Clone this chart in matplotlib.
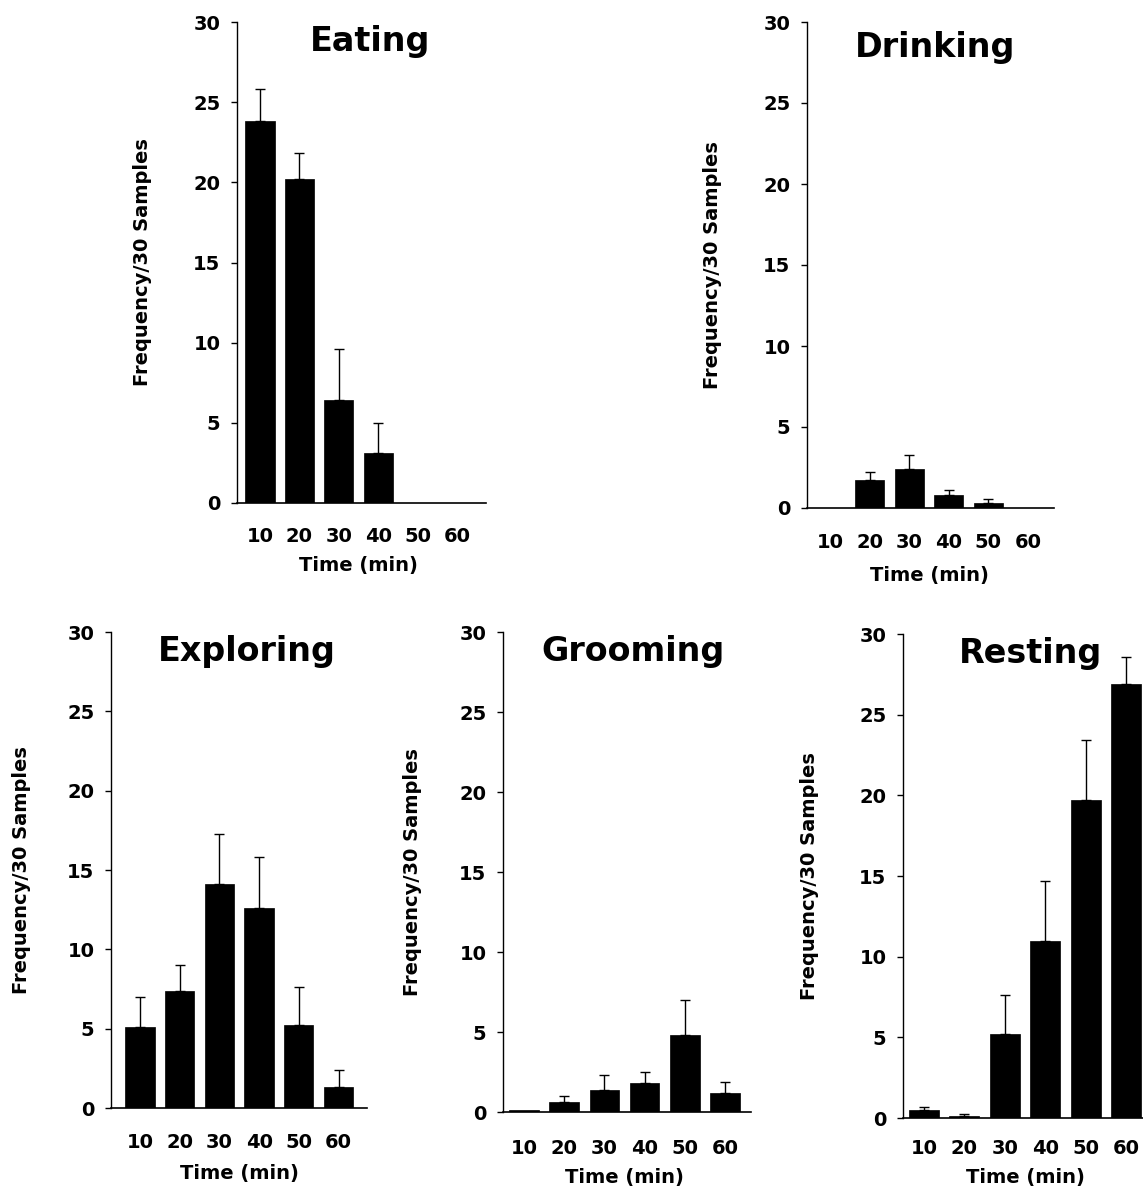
import matplotlib
matplotlib.use("Agg")
import matplotlib.pyplot as plt
import numpy as np

W, H = 1143, 1194
times = ["10", "20", "30", "40", "50", "60"]

eating = [23.8, 20.2, 6.4, 3.1, 0.0, 0.0]
eating_top = [25.8, 21.8, 9.6, 5.0, 0.0, 0.0]
drinking = [0.0, 1.7, 2.4, 0.8, 0.3, 0.0]
drinking_top = [0.0, 2.2, 3.3, 1.1, 0.55, 0.0]
exploring = [5.1, 7.4, 14.1, 12.6, 5.2, 1.3]
exploring_top = [7.0, 9.0, 17.3, 15.8, 7.6, 2.4]
grooming = [0.15, 0.6, 1.4, 1.8, 4.8, 1.2]
grooming_top = [0.15, 1.0, 2.3, 2.5, 7.0, 1.9]
resting = [0.5, 0.15, 5.2, 11.0, 19.7, 26.9]
resting_top = [0.7, 0.25, 7.6, 14.7, 23.4, 28.6]

# panel geometry in pixels: axis left, axis bottom, axis top, axis right, centre of first bar, bar spacing
panels = [
    dict(title="Eating", v=eating, t=eating_top, L=237, B=503, T=22, R=486, c0=260, sp=39.4,
         title_xy=(370, 42), ylab_x=142, xt_y=537, xl_y=566),
    dict(title="Drinking", v=drinking, t=drinking_top, L=807, B=508, T=22, R=1054, c0=830, sp=39.6,
         title_xy=(935, 47), ylab_x=712, xt_y=542, xl_y=575),
    dict(title="Exploring", v=exploring, t=exploring_top, L=111, B=1108, T=632, R=367, c0=140, sp=39.7,
         title_xy=(247, 652), ylab_x=22, xt_y=1143, xl_y=1173),
    dict(title="Grooming", v=grooming, t=grooming_top, L=503, B=1112, T=632, R=751, c0=524, sp=40.2,
         title_xy=(633, 652), ylab_x=413, xt_y=1148, xl_y=1178),
    dict(title="Resting", v=resting, t=resting_top, L=903, B=1118, T=634, R=1143, c0=924, sp=40.4,
         title_xy=(1031, 654), ylab_x=809, xt_y=1148, xl_y=1178),
]

fig = plt.figure(figsize=(W / 100, H / 100), dpi=100)
fig.patch.set_facecolor("white")

def fx(px):
    return px / W

def fy(py):
    return 1 - py / H

FS = 14
for p in panels:
    ax = fig.add_axes([fx(p["L"]), fy(p["B"]), fx(p["R"] - p["L"]), (p["B"] - p["T"]) / H])
    x = np.arange(1, 7)
    vals = np.array(p["v"])
    tops = np.array(p["t"])
    ax.bar(x, vals, width=0.74, color="black", edgecolor="black", linewidth=0.5, zorder=3)
    err = tops - vals
    mask = err > 0.05
    ax.errorbar(x[mask], vals[mask], yerr=[np.zeros(mask.sum()), err[mask]], fmt="none",
                ecolor="black", elinewidth=1.0, capsize=3.5, capthick=1.0, zorder=2)
    ax.set_xlim(1 + (p["L"] - p["c0"]) / p["sp"], 1 + (p["R"] - p["c0"]) / p["sp"])
    ax.set_ylim(0, 30)
    ax.set_yticks([0, 5, 10, 15, 20, 25, 30])
    ax.set_yticklabels(["0", "5", "10", "15", "20", "25", "30"], fontsize=FS, fontweight="bold")
    ax.set_xticks(x)
    ax.set_xticklabels([])
    for s in ["top", "right"]:
        ax.spines[s].set_visible(False)
    ax.spines["left"].set_linewidth(1.0)
    ax.spines["bottom"].set_linewidth(1.2)
    ax.tick_params(axis="y", direction="out", length=4, width=1, pad=8)
    ax.tick_params(axis="x", length=0)
    ax.patch.set_alpha(0)
    for i, lab in enumerate(times):
        fig.text(fx(p["c0"] + i * p["sp"]), fy(p["xt_y"]), lab, ha="center", va="center",
                 fontsize=FS, fontweight="bold")
    fig.text(fx(p["c0"] + 2.5 * p["sp"]), fy(p["xl_y"]), "Time (min)", ha="center", va="center",
             fontsize=FS, fontweight="bold")
    fig.text(fx(p["ylab_x"]), fy((p["B"] + p["T"]) / 2), "Frequency/30 Samples", rotation=90,
             ha="center", va="center", fontsize=FS, fontweight="bold")
    fig.text(fx(p["title_xy"][0]), fy(p["title_xy"][1]), p["title"], ha="center", va="center",
             fontsize=24, fontweight="bold")

fig.savefig("out.png", dpi=100)
